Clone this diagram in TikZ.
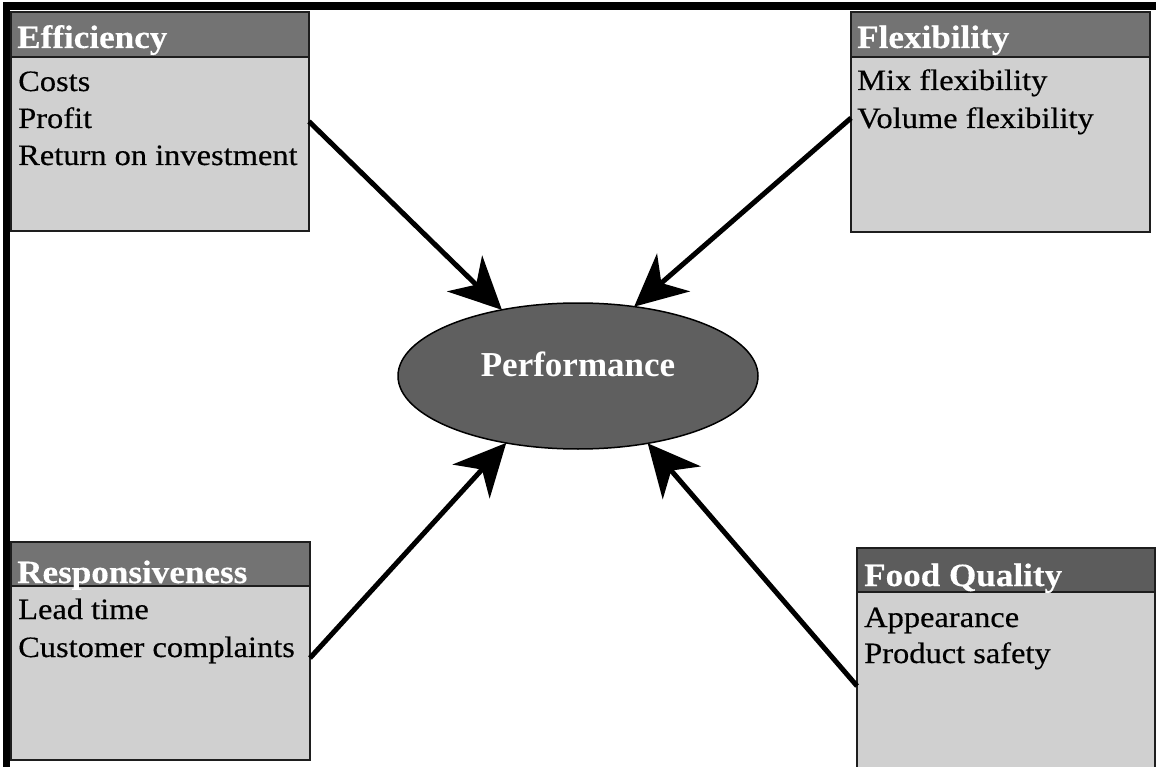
\documentclass[tikz,border=0pt]{standalone}
\usepackage{fontspec}
\setmainfont{Liberation Serif}
\newfontfamily\bodyfont[FakeStretch=1.10,FakeBold=0.4]{Liberation Serif}
\newfontfamily\headfont[FakeStretch=1.08,FakeBold=0.3]{Liberation Serif Bold}
\usetikzlibrary{arrows.meta,shapes.geometric}
\definecolor{bodygray}{HTML}{D0D0D0}
\definecolor{headgray}{HTML}{737373}
\definecolor{headdark}{HTML}{5C5C5C}
\definecolor{ovalgray}{HTML}{5F5F5F}
\definecolor{edgegray}{HTML}{1E1E1E}
\tikzset{
  panel/.style={draw=edgegray, line width=2pt, fill=bodygray, rectangle,
    inner sep=0pt, outer sep=0pt, anchor=north west, minimum width=298pt},
  headbar/.style={draw=edgegray, line width=2pt, fill=headgray, rectangle,
    inner sep=0pt, outer sep=0pt, anchor=north west, minimum width=298pt, minimum height=45pt},
  headtxt/.style={anchor=base west, inner sep=0pt, text=white, font=\headfont\fontsize{32.5}{36}\selectfont},
  itemtxt/.style={anchor=base west, inner sep=0pt, text=black, font=\bodyfont\fontsize{29.5}{34}\selectfont},
  perfshape/.style={ellipse, draw=black, line width=1.5pt, fill=ovalgray,
    minimum width=360pt, minimum height=146pt, inner sep=0pt, outer sep=0pt},
  perftxt/.style={anchor=base, inner sep=0pt, text=white, font=\bfseries\fontsize{35}{40}\selectfont},
  link/.style={line width=5pt, draw=black, -{Stealth[length=52pt,width=50pt,inset=16pt]}}
}
\begin{document}
\begin{tikzpicture}[x=1pt,y=-1pt]
\clip (0,0) rectangle (1156,767);
\fill[white] (0,0) rectangle (1156,767);
% frame lines along the top and left
\fill[black] (3,2) rectangle (1156,10);
\fill[black] (3,2) rectangle (10,767);

% central oval
\node[perfshape] (perf) at (578,376) {};
\node[perftxt] (perflabel) at (perf.center) {Performance};

% Efficiency
\node[panel, minimum height=219pt] (eff) at (11,12) {};
\node[headbar] (effhead) at (11,12) {};
\node[headtxt] (effname) at (17,48) {Efficiency};
\node[itemtxt] (eff1) at (18,91) {Costs};
\node[itemtxt] (eff2) at (18,128) {Profit};
\node[itemtxt] (eff3) at (18,165) {Return on investment};

% Flexibility
\node[panel, minimum height=220pt, minimum width=299pt] (flex) at (851,12) {};
\node[headbar, minimum width=299pt] (flexhead) at (851,12) {};
\node[headtxt] (flexname) at (857,48) {Flexibility};
\node[itemtxt] (flex1) at (857,90) {Mix flexibility};
\node[itemtxt] (flex2) at (857,128) {Volume flexibility};

% Responsiveness
\node[panel, minimum height=218pt, minimum width=299pt] (resp) at (11,542) {};
\node[headbar, minimum width=299pt, minimum height=44pt] (resphead) at (11,542) {};
\node[headtxt] (respname) at (17,583) {Responsiveness};
\node[itemtxt] (resp1) at (18,619) {Lead time};
\node[itemtxt] (resp2) at (18,657) {Customer complaints};

% Food Quality
\node[panel, minimum height=276pt] (food) at (857,548) {};
\node[headbar, fill=headdark, minimum height=44pt] (foodhead) at (857,548) {};
\node[headtxt] (foodname) at (864,586) {Food Quality};
\node[itemtxt] (food1) at (864,627) {Appearance};
\node[itemtxt] (food2) at (864,663) {Product safety};

% connectors into the oval
\draw[link] (eff.east) -- (perf.139);
\draw[link] ([yshift=4pt]flex.west) -- (perf.51);
\draw[link] ([yshift=-7pt]resp.east) -- (perf.223);
\draw[link] (food.west) -- (perf.316);
\end{tikzpicture}
\end{document}
